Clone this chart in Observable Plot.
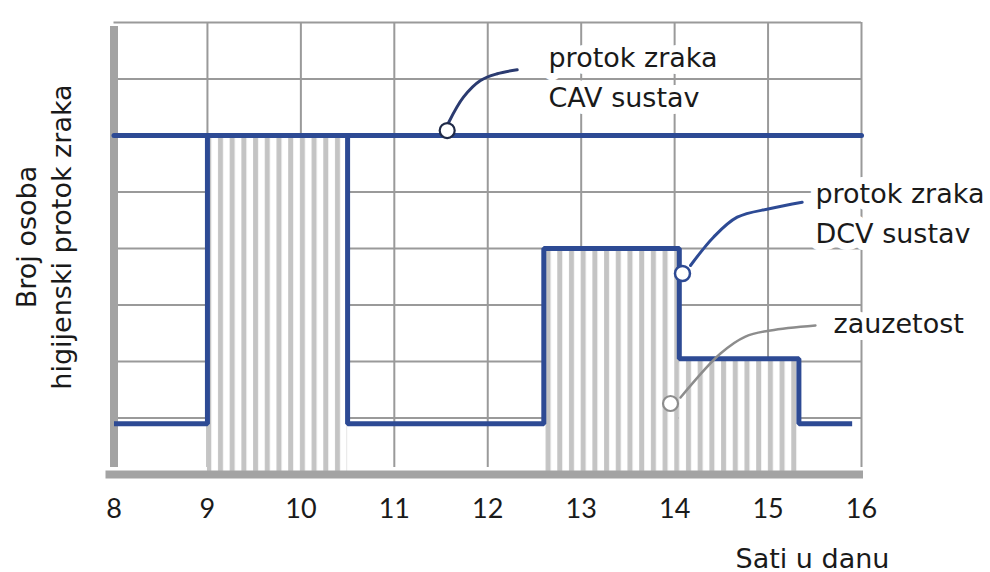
<!DOCTYPE html>
<html>
<head>
<meta charset="utf-8">
<script src="https://cdn.jsdelivr.net/npm/d3@7"></script>
<script src="https://cdn.jsdelivr.net/npm/@observablehq/plot@0.6"></script>
<style>
  body { margin: 0; background: #fff; }
  g[aria-label="x-axis tick label"] text { font-family: Lato, "Open Sans", sans-serif; }
</style>
</head>
<body>
<div id="chart"></div>
<script>
// ---- data ----
const hours = [8, 9, 10, 11, 12, 13, 14, 15, 16];
const gridLevels = [1, 2, 3, 4, 5, 6, 7, 8];

// CAV system air flow (constant)
const cavX = [8, 16];
const cavY = [6, 6];

// DCV system air flow (step-after)
const dcvX = [8, 9, 10.5, 12.6, 14.05, 15.33, 15.9];
const dcvY = [0.9, 6, 0.9, 4, 2.05, 0.9, 0.9];

// occupancy (hatched blocks)
const occStart = [9, 12.6, 14.05];
const occEnd = [10.5, 14.05, 15.33];
const occLevel = [6, 4, 2.05];

// callout labels
const labels = ["protok zraka\nCAV sustav", "protok zraka\nDCV sustav", "zauzetost"];
const labelX = [12.65, 15.507, 15.70];
const labelY = [6.513, 4.106, 2.496];

// callout circles
const cavDotX = [11.566], cavDotY = [6.088];
const dcvDotX = [14.084], dcvDotY = [3.558];
const occDotX = [13.956], occDotY = [1.257];

// leader lines
const cavLeadX = [11.583, 11.740, 11.922, 12.101, 12.315];
const cavLeadY = [6.235, 6.678, 6.973, 7.092, 7.163];
const dcvLeadX = [14.170, 14.416, 14.670, 15.026, 15.365];
const dcvLeadY = [3.699, 4.200, 4.554, 4.708, 4.819];
const occLeadX = [14.063, 14.491, 14.758, 15.026, 15.507];
const occLeadY = [1.363, 2.142, 2.442, 2.549, 2.637];

const xLabel = "Sati u danu";
const yLabel = "Broj osoba\nhigijenski protok zraka";

// ---- helpers ----
const pts = (xs, ys) => xs.map((x, i) => ({x, y: ys[i]}));
const blue = "#2d4a94";
const grid = "#9a9a9a";
const axisGrey = "#a3a3a3";
const ink = "#1a1a1a";

const occ = occStart.map((s, i) => ({x1: s, x2: occEnd[i], y2: occLevel[i]}));

const svg = Plot.plot({
  width: 990,
  height: 572,
  marginLeft: 113.5,
  marginRight: 129,
  marginTop: 22,
  marginBottom: 98,
  style: {fontFamily: "'DejaVu Sans', sans-serif", background: "white", overflow: "visible"},
  x: {domain: [8, 16], axis: null},
  y: {domain: [0, 8], axis: null},
  marks: [
    // grid
    Plot.ruleY(gridLevels, {x1: 8, x2: 16, stroke: grid, strokeWidth: 2}),
    Plot.ruleX(hours.slice(1), {y1: 0, y2: 8, insetTop: -7, stroke: grid, strokeWidth: 2}),
    // occupancy hatch
    Plot.rect(occ, {x1: "x1", x2: "x2", y1: 0, y2: "y2", fill: "url(#hatch)"}),
    // axes lines
    Plot.ruleY([0], {x1: 8, x2: 16, insetLeft: -8, insetRight: -2, stroke: axisGrey, strokeWidth: 8}),
    Plot.ruleX([8], {y1: 0, y2: 8, insetTop: -7, insetBottom: -4, stroke: axisGrey, strokeWidth: 8}),
    // CAV line
    Plot.line(pts(cavX, cavY), {x: "x", y: "y", stroke: blue, strokeWidth: 5}),
    // DCV step line
    Plot.line(pts(dcvX, dcvY), {x: "x", y: "y", curve: "step-after", stroke: blue, strokeWidth: 5, strokeLinejoin: "miter", strokeLinecap: "butt"}),
    // leaders
    Plot.line(pts(cavLeadX, cavLeadY), {x: "x", y: "y", curve: "catmull-rom", stroke: "#2b3b70", strokeWidth: 3}),
    Plot.line(pts(dcvLeadX, dcvLeadY), {x: "x", y: "y", curve: "catmull-rom", stroke: blue, strokeWidth: 3}),
    Plot.line(pts(occLeadX, occLeadY), {x: "x", y: "y", curve: "catmull-rom", stroke: "#8c8c8c", strokeWidth: 2.5}),
    // callout circles
    Plot.dot(pts(cavDotX, cavDotY), {x: "x", y: "y", r: 7.5, fill: "white", stroke: "#1f2a48", strokeWidth: 2.2}),
    Plot.dot(pts(dcvDotX, dcvDotY), {x: "x", y: "y", r: 7.5, fill: "white", stroke: blue, strokeWidth: 2.5}),
    Plot.dot(pts(occDotX, occDotY), {x: "x", y: "y", r: 7.5, fill: "white", stroke: "#8c8c8c", strokeWidth: 2.2}),
    // callout labels
    Plot.text(labels, {
      x: (d, i) => labelX[i], y: (d, i) => labelY[i], text: d => d,
      textAnchor: "start", lineAnchor: "bottom", lineHeight: 1.48,
      fontSize: 27, fill: ink, stroke: "white", strokeWidth: 14,
      strokeLinejoin: "round", paintOrder: "stroke"
    }),
    // x tick labels
    Plot.axisX(hours, {tickSize: 0, tickPadding: 24, fontSize: 27, fontFamily: "Lato", fill: ink, label: null}),
    // x label
    Plot.text([xLabel], {text: d => d, frameAnchor: "bottom-right", textAnchor: "middle", lineAnchor: "bottom", dx: -49, dy: 93, fontSize: 27, fill: ink}),
    // y label
    Plot.text([yLabel], {text: d => d, frameAnchor: "left", rotate: -90, textAnchor: "middle", lineAnchor: "middle", lineHeight: 1.31, dx: -72, dy: -11.5, fontSize: 27, fill: ink})
  ]
});

// hatch pattern definition
const ns = "http://www.w3.org/2000/svg";
const defs = document.createElementNS(ns, "defs");
const pat = document.createElementNS(ns, "pattern");
pat.setAttribute("id", "hatch");
pat.setAttribute("patternUnits", "userSpaceOnUse");
pat.setAttribute("x", "215");
pat.setAttribute("width", "11.7");
pat.setAttribute("height", "10");
const bg = document.createElementNS(ns, "rect");
bg.setAttribute("width", "11.7"); bg.setAttribute("height", "10"); bg.setAttribute("fill", "white");
const st = document.createElementNS(ns, "rect");
st.setAttribute("x", "3"); st.setAttribute("width", "5"); st.setAttribute("height", "10"); st.setAttribute("fill", "#c4c4c4");
pat.appendChild(bg); pat.appendChild(st);
defs.appendChild(pat);
svg.insertBefore(defs, svg.firstChild);

document.getElementById("chart").appendChild(svg);
</script>
</body>
</html>
